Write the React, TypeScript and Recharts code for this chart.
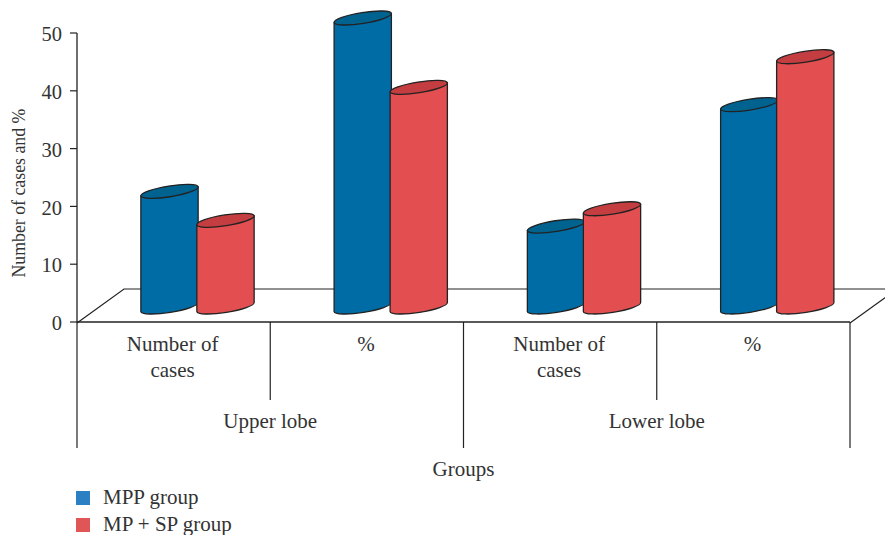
import React from "react";
import { Bar, BarChart, Legend, usePlotArea, XAxis, YAxis } from "recharts";

const categories = ["Number of cases", "%", "Number of cases", "%"];
const groups = ["Upper lobe", "Lower lobe"];
const mppValues = [20, 50, 14, 35];
const mpSpValues = [15, 38, 17, 43.3];
const yTicks = [0, 10, 20, 30, 40, 50];

const data = categories.map((name, i) => ({
  name,
  mpp: mppValues[i],
  mpSp: mpSpValues[i],
}));

const WIDTH = 885;
const HEIGHT = 535;
const TEXT = "#333";
const LINE = "#222";
const FONT_SIZE = 21;
// floor depth of the fake 3D box
const DEPTH_X = 47;
const DEPTH_Y = 34;
const TILT = 9;

function Cylinder(props: any) {
  const { x, y, width, height, fill, topFill } = props;
  const rx = width / 2 + 0.5;
  const ry = 5.4;
  const cx = x + width / 2 + 24;
  const top = y - 15;
  const bottom = y + height - 15;
  const rad = (TILT * Math.PI) / 180;
  const dx = rx * Math.cos(rad);
  const dy = rx * Math.sin(rad);
  const arc = `A${rx} ${ry} ${-TILT}`;
  return (
    <g stroke={LINE} strokeWidth={1.3} strokeLinejoin="round">
      <path
        fill={fill}
        d={`M${cx - dx} ${top + dy} L${cx - dx} ${bottom + dy} ${arc} 0 0 ${cx + dx} ${bottom - dy} L${cx + dx} ${top - dy} Z`}
      />
      <path
        fill={topFill}
        d={`M${cx - dx} ${top + dy} ${arc} 1 1 ${cx + dx} ${top - dy} ${arc} 1 1 ${cx - dx} ${top + dy} Z`}
      />
    </g>
  );
}

// Floor of the box behind the cylinders
function Floor() {
  const plot = usePlotArea();
  if (!plot) return null;
  const left = plot.x;
  const right = plot.x + plot.width;
  const front = plot.y + plot.height + 1;
  const back = front - DEPTH_Y;
  return (
    <path
      fill="none"
      stroke={LINE}
      strokeWidth={1.2}
      d={`M${left} ${front} L${left + DEPTH_X} ${back} L${right + DEPTH_X} ${back} L${right} ${front}`}
    />
  );
}

function CategoryTick(props: any) {
  const { x, index, payload } = props;
  const y = props.y - 8; // tick y already holds the default tick size and margin
  const band = (WIDTH - 77 - 35) / categories.length;
  const words: string[] = payload.value === "%" ? ["%"] : ["Number of", "cases"];
  const isGroupEnd = index % 2 === 1;
  const rightEdge = x + band / 2;
  const leftEdge = x - band / 2;
  return (
    <g>
      {words.map((w, i) => (
        <text key={i} x={x - 1} y={y + 29 + i * 26} textAnchor="middle" fill={TEXT} fontSize={FONT_SIZE}>
          {w}
        </text>
      ))}
      {index === 0 && <line x1={leftEdge} x2={leftEdge} y1={y} y2={y + 126} stroke={LINE} strokeWidth={1.2} />}
      <line
        x1={rightEdge}
        x2={rightEdge}
        y1={y}
        y2={y + (isGroupEnd ? 126 : 78)}
        stroke={LINE}
        strokeWidth={1.2}
      />
      {!isGroupEnd && (
        <text x={rightEdge} y={y + 106} textAnchor="middle" fill={TEXT} fontSize={FONT_SIZE}>
          {groups[(index - index % 2) / 2]}
        </text>
      )}
    </g>
  );
}

const legendItems = [
  { label: "MPP group", color: "#2a80c2" },
  { label: "MP + SP group", color: "#e05656" },
];

function LegendContent() {
  return (
    <div>
      {legendItems.map((item) => (
        <div
          key={item.label}
          style={{ display: "flex", alignItems: "center", height: 27, color: TEXT, fontSize: FONT_SIZE }}
        >
          <span style={{ width: 14, height: 14, background: item.color, marginRight: 13 }} />
          {item.label}
        </div>
      ))}
    </div>
  );
}

export default function App() {
  return (
    <div style={{ position: "absolute", left: 0, top: 0, fontFamily: "'Liberation Serif', serif" }}>
      <BarChart
        width={WIDTH}
        height={HEIGHT}
        data={data}
        margin={{ top: 33, right: 35, bottom: 0, left: 0 }}
        barSize={57}
        barGap={-1}
        style={{ fontFamily: "'Liberation Serif', serif" }}
      >
        <Floor />
        <YAxis
          width={77}
          domain={[0, 50]}
          ticks={yTicks}
          tickSize={7}
          tickMargin={8}
          tick={{ fill: TEXT, fontSize: 20.5, dy: 1 }}
          axisLine={{ stroke: LINE, strokeWidth: 1.3 }}
          tickLine={{ stroke: LINE, strokeWidth: 1.2 }}
          label={{
            value: "Number of cases and %",
            angle: -90,
            position: "insideLeft",
            offset: 19,
            dy: 100,
            fill: TEXT,
            fontSize: 17.8,
          }}
        />
        <XAxis
          dataKey="name"
          height={213}
          interval={0}
          tickLine={false}
          tick={<CategoryTick />}
          axisLine={{ stroke: LINE, strokeWidth: 1.3 }}
          label={{ value: "Groups", position: "insideBottom", offset: 59, fill: TEXT, fontSize: FONT_SIZE }}
        />
        <Bar dataKey="mpp" fill="#006ca6" isAnimationActive={false} shape={<Cylinder topFill="#00628f" />} />
        <Bar dataKey="mpSp" fill="#e34f50" isAnimationActive={false} shape={<Cylinder topFill="#c43d40" />} />
        <Legend
          layout="horizontal"
          verticalAlign="middle"
          align="center"
          content={<LegendContent />}
          wrapperStyle={{ left: 76, top: 484, width: 300, bottom: "auto" }}
        />
      </BarChart>
    </div>
  );
}
